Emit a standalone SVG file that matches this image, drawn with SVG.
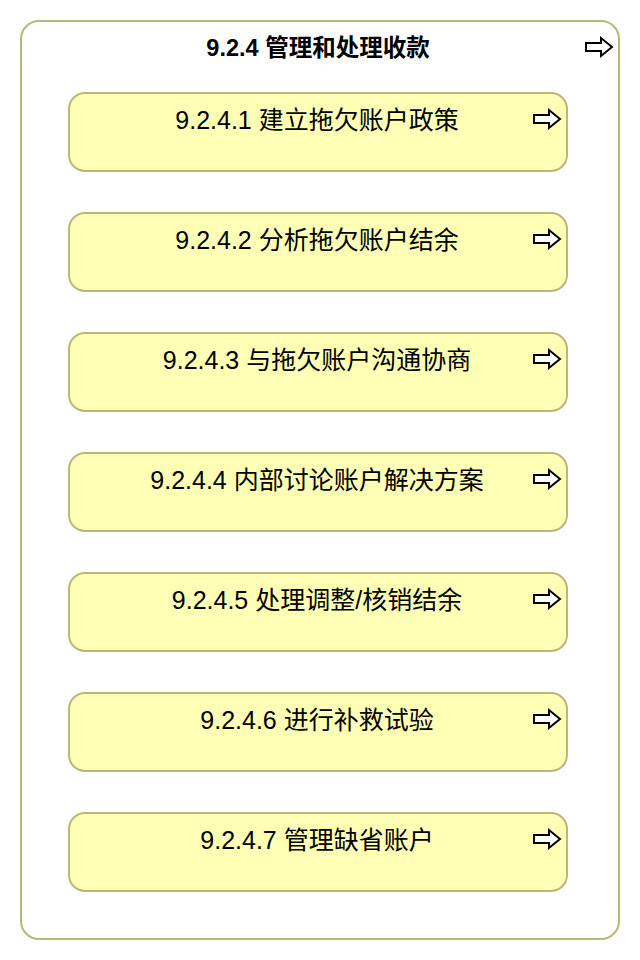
<svg xmlns="http://www.w3.org/2000/svg" width="640" height="960" viewBox="0 0 640 960">
<defs>
<style>
.outer{fill:#ffffff;stroke:#b8b87a;stroke-width:2}
.box{fill:#ffffb5;stroke:#b8b87a;stroke-width:2}
.t{font-family:"Liberation Sans","Noto Sans CJK SC",sans-serif;font-size:25px;fill:#000;text-anchor:middle}
.title{font-family:"Liberation Sans","Noto Sans CJK SC",sans-serif;font-size:23.5px;font-weight:bold;fill:#000;text-anchor:middle}
.arr{fill:#fff;stroke:#000;stroke-width:2;stroke-linejoin:miter}
</style>
<path id="arrow" d="M0,-4 L15,-4 L15,-9 L26,0 L15,9 L15,4 L0,4 Z"/>
</defs>
<g id="container">
<rect class="outer" x="21" y="21" width="598" height="918" rx="18"/>
<text class="title" x="318" y="56">9.2.4 管理和处理收款</text>
<use href="#arrow" class="arr" x="586" y="47"/>
</g>
<g id="n1">
<rect class="box" x="69" y="93" width="498" height="78" rx="16"/>
<text class="t" x="317" y="129">9.2.4.1 建立拖欠账户政策</text>
<use href="#arrow" class="arr" x="534" y="119"/>
</g>
<g id="n2">
<rect class="box" x="69" y="213" width="498" height="78" rx="16"/>
<text class="t" x="317" y="249">9.2.4.2 分析拖欠账户结余</text>
<use href="#arrow" class="arr" x="534" y="239"/>
</g>
<g id="n3">
<rect class="box" x="69" y="333" width="498" height="78" rx="16"/>
<text class="t" x="317" y="369">9.2.4.3 与拖欠账户沟通协商</text>
<use href="#arrow" class="arr" x="534" y="359"/>
</g>
<g id="n4">
<rect class="box" x="69" y="453" width="498" height="78" rx="16"/>
<text class="t" x="317" y="489">9.2.4.4 内部讨论账户解决方案</text>
<use href="#arrow" class="arr" x="534" y="479"/>
</g>
<g id="n5">
<rect class="box" x="69" y="573" width="498" height="78" rx="16"/>
<text class="t" x="317" y="609">9.2.4.5 处理调整/核销结余</text>
<use href="#arrow" class="arr" x="534" y="599"/>
</g>
<g id="n6">
<rect class="box" x="69" y="693" width="498" height="78" rx="16"/>
<text class="t" x="317" y="729">9.2.4.6 进行补救试验</text>
<use href="#arrow" class="arr" x="534" y="719"/>
</g>
<g id="n7">
<rect class="box" x="69" y="813" width="498" height="78" rx="16"/>
<text class="t" x="317" y="849">9.2.4.7 管理缺省账户</text>
<use href="#arrow" class="arr" x="534" y="839"/>
</g>
<g id="connectors"></g>
</svg>
